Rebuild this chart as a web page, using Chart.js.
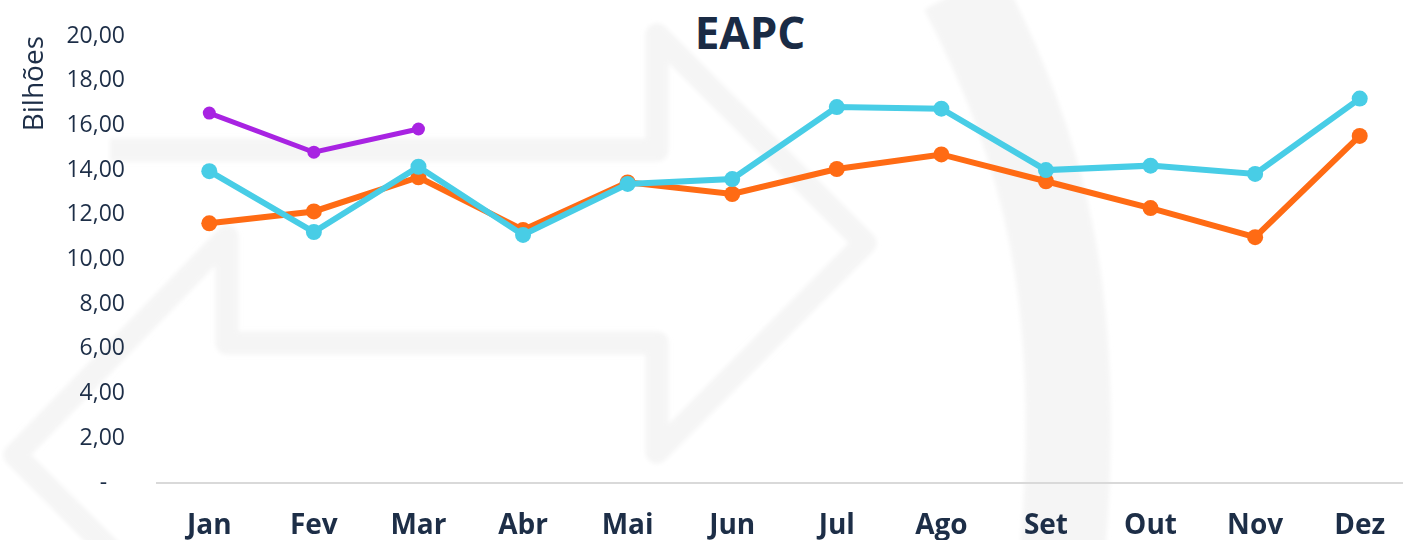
<!DOCTYPE html>
<html lang="pt-BR">
<head>
<meta charset="utf-8">
<title>EAPC</title>
<script src="https://cdn.jsdelivr.net/npm/chart.js@4.4.1/dist/chart.umd.min.js"></script>
<style>
html,body{margin:0;padding:0;background:#fff;overflow:hidden;width:1403px;height:540px;}
#marca{position:absolute;left:0;top:0;}
#titulo{position:absolute;left:0;top:10px;width:1500px;text-align:center;font:700 44px/1 "Open Sans",sans-serif;color:#1a2b45;}
#caixa{position:absolute;left:0;top:0;width:1420px;height:563px;}
</style>
</head>
<body>
<svg id="marca" width="1403" height="540" viewBox="0 0 1403 540">
  <defs><filter id="suave"><feGaussianBlur stdDeviation="2"/></filter></defs>
  <g fill="none" stroke="#f5f5f5" stroke-linejoin="round" filter="url(#suave)">
    <path d="M110,150 L657,150 L657,35 L865,243 L657,452 L657,343 L227,343 L227,237 L15,455 L140,580" stroke-width="23"/>
    <path d="M962,-10 C1045,150 1085,300 1062,560" stroke-width="85"/>
  </g>
</svg>
<div id="titulo">EAPC</div>
<div id="caixa"><canvas id="grafico" width="1420" height="563"></canvas></div>
<script>
const meses=['Jan','Fev','Mar','Abr','Mai','Jun','Jul','Ago','Set','Out','Nov','Dez'];
// bilhões por mês
const serieLaranja=[11.62,12.15,13.68,11.32,13.45,12.93,14.05,14.70,13.50,12.30,11.00,15.53];
const serieAzul=[13.95,11.23,14.15,11.10,13.38,13.60,16.82,16.75,14.00,14.20,13.83,17.20];
const serieRoxa=[16.55,14.80,15.84,null,null,null,null,null,null,null,null,null];

const corTexto='#1d2e47';

function fmtValor(v){
  if(v===0)return '-   ';
  return v.toFixed(2).replace('.',',');
}

function serie(dados,cor,largura,raio,ordem){
  return {
    data:dados,
    borderColor:cor,
    backgroundColor:cor,
    pointBackgroundColor:cor,
    pointBorderColor:cor,
    borderWidth:largura,
    pointRadius:raio,
    pointBorderWidth:0,
    pointHoverRadius:raio,
    tension:0,
    spanGaps:false,
    order:ordem
  };
}

new Chart(document.getElementById('grafico'),{
  type:'line',
  data:{
    labels:meses,
    datasets:[
      serie(serieLaranja,'#ff6b14',6,8,3),
      serie(serieAzul,'#48cde6',6,8,2),
      serie(serieRoxa,'#a823e2',5,6.5,1)
    ]
  },
  options:{
    responsive:false,
    devicePixelRatio:1,
    animation:false,
    layout:{padding:{left:0,right:3,top:36,bottom:0}},
    plugins:{legend:{display:false},tooltip:{enabled:false},title:{display:false}},
    scales:{
      x:{
        offset:true,
        grid:{display:false,drawTicks:false},
        border:{display:true,color:'#d9d9d9',width:2},
        ticks:{color:corTexto,padding:26,font:{family:'"Open Sans"',size:28,weight:'bold'}},
        afterFit:function(s){s.height=80;}
      },
      y:{
        min:0,max:20,
        grid:{display:false,drawTicks:false},
        border:{display:false},
        ticks:{stepSize:2,color:corTexto,padding:32,font:{family:'"Open Sans"',size:23},callback:function(v){return fmtValor(v);}},
        title:{display:true,text:'Bilhões',align:'end',color:corTexto,font:{family:'"Open Sans"',size:28},padding:{top:18,bottom:0}},
        afterFit:function(s){
          s.width=157;
          // o espaçamento dos rótulos não deve empurrar a área do gráfico
          s.paddingTop=14;
          s.paddingBottom=14;
        }
      }
    }
  }
});
</script>
</body>
</html>
